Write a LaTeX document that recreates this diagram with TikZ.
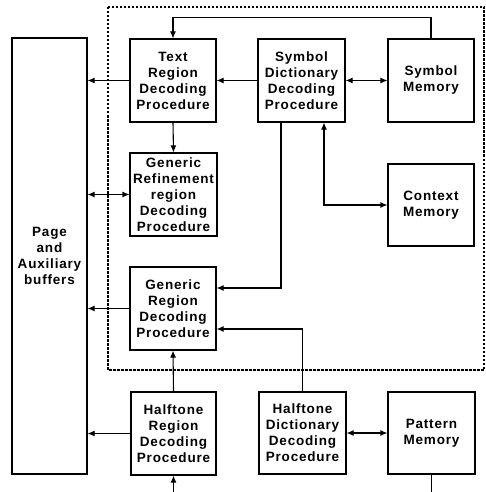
\documentclass[tikz,border=0pt]{standalone}
\usepackage{fontspec}
\setmainfont{Liberation Sans}
\newfontfamily\boxfont[LetterSpace=6]{Liberation Sans}
\usetikzlibrary{arrows.meta}
\begin{document}
\begin{tikzpicture}[x=1pt,y=-1pt,
  box/.style={draw,line width=1.1pt,align=center,inner sep=0pt,
    font=\boxfont\fontsize{13.5}{16}\selectfont\bfseries},
  arr/.style={line width=1.1pt,-{Latex[length=7pt,width=6pt]}},
  arrb/.style={line width=1.1pt,{Latex[length=7pt,width=6pt]}-{Latex[length=7pt,width=6pt]}},
  ln/.style={line width=1.1pt}]
\useasboundingbox (0,0) rectangle (485,492);
\draw[line width=1.1pt,dash pattern=on 2.5pt off 1.5pt] (108,7) rectangle (484,370);
\node[box,minimum width=75pt,minimum height=436pt] (page) at (49.5,256) {Page\\and\\Auxiliary\\buffers};
\node[box,minimum width=86pt,minimum height=83pt] (text) at (173,80.5) {Text\\Region\\Decoding\\Procedure};
\node[box,minimum width=87pt,minimum height=83pt] (symdict) at (301.5,80.5) {Symbol\\Dictionary\\Decoding\\Procedure};
\node[box,minimum width=86pt,minimum height=83pt] (symmem) at (431,80.5) {Symbol\\Memory};
\node[box,minimum width=87pt,minimum height=83pt] (genref) at (173.5,194.5) {Generic\\Refinement\\region\\Decoding\\Procedure};
\node[box,minimum width=86pt,minimum height=82pt] (ctx) at (431,205) {Context\\Memory};
\node[box,minimum width=86pt,minimum height=83pt] (genreg) at (173,308.5) {Generic\\Region\\Decoding\\Procedure};
\node[box,minimum width=85pt,minimum height=83pt] (hreg) at (173.5,433.5) {Halftone\\Region\\Decoding\\Procedure};
\node[box,minimum width=87pt,minimum height=82pt] (hdict) at (302.5,433) {Halftone\\Dictionary\\Decoding\\Procedure};
\node[box,minimum width=87pt,minimum height=82pt] (pat) at (431.5,433) {Pattern\\Memory};
\coordinate (inb) at (173.5,492);
\coordinate (outb) at (431.5,492);
% connectors
\draw[arr] (symmem.north) -- ++(0,-21) -| (text.north);
\draw[arr] (symdict.west) -- (text.east);
\draw[arr] (text.west) -- (text.west -| page.east);
\draw[arr] (text.south) -- (genref.north);
\draw[arrb] (page.east |- genref.west) -- (genref.west);
\draw[arrb] (symdict.east) -- (symmem.west);
\draw[arrb] ([xshift=22.5pt]symdict.south) |- (ctx.west);
\draw[arr] ([xshift=-20.5pt]symdict.south) |- ([yshift=20.5pt]genreg.east);
\draw[arr] (hdict.north) |- ([yshift=-20.5pt]genreg.east);
\draw[arr] (hreg.north) -- (genreg.south);
\draw[arr] (genreg.west) -- (genreg.west -| page.east);
\draw[arr] (hreg.west) -- (hreg.west -| page.east);
\draw[arrb] (hdict.east) -- (pat.west);
\draw[arr] (inb) -- (hreg.south);
\draw[ln] (pat.south) -- (outb);
\end{tikzpicture}
\end{document}
